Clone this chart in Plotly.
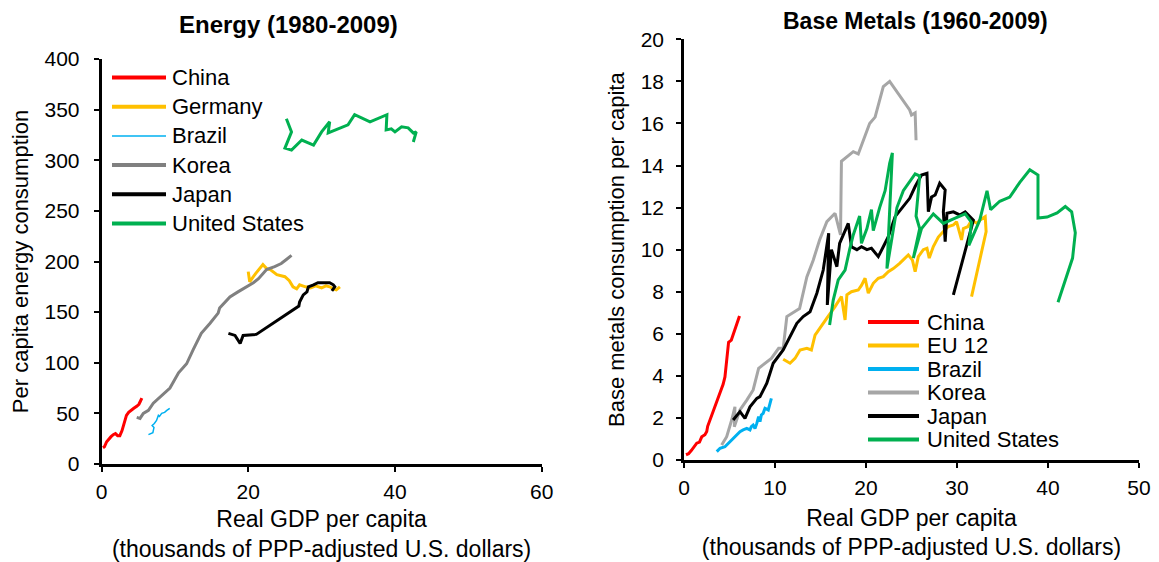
import plotly.graph_objects as go

# The page body has an 8px default margin, so the figure is sized/offset to fill the window exactly.
PAGE_W, PAGE_H, BODY_MARGIN = 1159, 562, 8
W, H = PAGE_W - BODY_MARGIN, PAGE_H - BODY_MARGIN

# ---------------- Energy (1980-2009) ----------------
energy_names = ["China", "Germany", "Brazil", "Korea", "Japan", "United States"]

china_e_x = [0.2, 0.4, 0.7, 1.0, 1.3, 1.6, 1.9, 2.2, 2.5, 2.8, 3.0, 3.2, 3.4, 3.7, 4.0, 4.4, 4.8, 5.1, 5.3, 5.5]
china_e_y = [16, 17, 22, 25, 27, 29, 30, 28, 28, 33, 38, 43, 48, 51, 53, 55, 57, 59, 62, 65]

germany_e_x = [20.0, 20.2, 21.0, 22.0, 22.5, 23.0, 23.9, 25.0, 25.6, 26.1, 26.6, 27.0, 27.8, 28.5, 29.2, 30.0, 30.6, 31.1, 31.6, 32.0, 32.5]
germany_e_y = [190, 180, 188, 197, 193, 192, 187, 185, 181, 175, 173, 177, 175, 174, 176, 174, 176, 175, 173, 172, 175]

brazil_e_x = [6.4, 6.7, 7.0, 7.15, 6.9, 7.2, 7.5, 7.75, 7.9, 8.2, 8.6, 8.9, 9.3]
brazil_e_y = [29, 30, 31, 36, 38, 40, 43, 48, 47, 50, 51, 53, 55]

korea_e_x = [4.8, 5.25, 5.7, 6.4, 7.06, 8.2, 9.33, 10.5, 11.6, 12.5, 13.6, 14.8, 15.9, 16.1, 16.8, 17.5, 18.6, 19.8, 20.7, 21.4, 22.5, 23.6, 24.5, 25.2, 25.9]
korea_e_y = [46, 45, 50, 53, 60, 68, 75, 90, 99, 113, 129, 139, 149, 154, 160, 165, 170, 175, 179, 183, 192, 195, 198, 202, 206]

japan_e_x = [17.3, 18.2, 18.9, 19.3, 21.1, 23.0, 24.8, 26.6, 26.9, 27.0, 27.5, 28.0, 28.2, 28.9, 29.5, 30.3, 31.1, 31.6, 31.8, 31.4]
japan_e_y = [129, 127, 119, 127, 128, 137, 146, 154, 156, 160, 167, 170, 175, 177, 179, 179, 179, 177, 175, 171]

us_e_x = [25.2, 25.9, 25.0, 25.9, 27.3, 28.9, 30.0, 31.1, 30.9, 32.5, 33.6, 34.5, 36.6, 38.9, 38.8, 39.5, 40.0, 40.9, 41.8, 42.5, 42.9, 42.5]
us_e_y = [341, 328, 312, 310, 320, 315, 328, 338, 327, 332, 335, 345, 338, 345, 330, 331, 328, 333, 332, 327, 328, 318]

# ---------------- Base Metals (1960-2009) ----------------
metal_names = ["China", "EU 12", "Brazil", "Korea", "Japan", "United States"]

china_m_x = [0.22, 0.5, 0.8, 1.1, 1.4, 1.7, 1.95, 2.3, 2.5, 2.6, 2.9, 3.2, 3.6, 3.95, 4.3, 4.5, 4.7, 4.9, 5.2, 5.45, 5.7, 6.1]
china_m_y = [0.25, 0.3, 0.45, 0.6, 0.8, 0.85, 1.1, 1.2, 1.35, 1.6, 1.95, 2.4, 2.85, 3.25, 3.6, 3.95, 4.8, 5.6, 5.7, 6.0, 6.4, 6.85]

eu_m_x = [10.9, 11.65, 12.2, 12.75, 13.5, 14.0, 14.4, 15.1, 15.7, 16.6, 17.3, 17.7, 17.9, 18.4, 19.15, 19.5, 19.9, 20.25, 20.8, 21.35, 21.9, 22.45, 23.0, 23.7, 24.65, 25.1, 25.4, 25.75, 26.3, 26.7, 26.95, 27.4, 27.95, 28.5, 29.05, 29.6, 29.95, 30.5, 30.7, 31.2, 31.6, 32.2, 32.5, 33.1, 33.2, 31.6]
eu_m_y = [4.79, 4.6, 4.83, 5.23, 5.31, 5.23, 5.94, 6.34, 6.74, 7.29, 7.77, 6.66, 7.85, 8.0, 8.08, 8.3, 8.64, 7.93, 8.4, 8.64, 8.72, 8.95, 9.1, 9.35, 9.75, 9.5, 8.95, 9.67, 10.0, 10.07, 9.6, 10.15, 10.6, 10.86, 11.1, 11.17, 11.33, 10.46, 11.0, 11.1, 11.4, 11.25, 11.4, 11.57, 10.86, 7.77]

brazil_m_x = [3.6, 3.96, 4.5, 4.87, 5.4, 5.8, 6.15, 6.5, 6.9, 7.25, 7.4, 7.6, 7.8, 8.0, 8.2, 8.35, 8.5, 8.7, 8.9, 9.26, 9.45, 9.6]
brazil_m_y = [0.4, 0.56, 0.63, 0.79, 1.03, 1.19, 1.35, 1.43, 1.5, 1.43, 1.58, 1.66, 1.5, 1.74, 2.06, 1.82, 2.14, 2.22, 2.46, 2.38, 2.7, 2.93]

korea_m_x = [4.14, 4.69, 5.24, 5.6, 5.53, 6.15, 6.9, 7.6, 8.2, 9.1, 9.6, 10.4, 10.9, 11.3, 12.7, 13.5, 14.2, 14.9, 15.7, 16.6, 17.2, 17.3, 18.6, 19.15, 20.1, 20.4, 21.0, 21.9, 22.6, 23.7, 24.8, 25.0, 25.4, 25.5]
korea_m_y = [0.71, 1.11, 1.9, 2.53, 1.58, 2.38, 2.85, 3.33, 4.36, 4.68, 4.83, 5.31, 5.31, 6.82, 7.2, 8.7, 9.5, 10.46, 11.33, 11.73, 10.7, 14.2, 14.66, 14.55, 15.6, 16.0, 16.3, 17.75, 18.0, 17.3, 16.64, 16.4, 16.5, 15.2]

japan_m_x = [5.4, 6.15, 6.7, 7.25, 8.0, 8.35, 9.1, 9.8, 10.9, 12.4, 13.1, 13.85, 14.6, 15.3, 15.9, 15.75, 16.2, 16.8, 17.1, 18.05, 18.4, 19.0, 19.5, 20.1, 20.6, 21.35, 21.9, 22.45, 23.2, 24.1, 24.8, 25.4, 26.1, 26.7, 26.85, 27.2, 27.6, 28.1, 28.7, 28.5, 28.7, 28.9, 29.6, 30.3, 30.9, 31.8, 29.6]
japan_m_y = [1.9, 2.3, 1.98, 2.53, 2.93, 3.01, 3.65, 4.6, 5.23, 6.5, 6.82, 7.05, 7.93, 9.03, 10.78, 7.37, 10.0, 9.19, 10.3, 11.25, 10.14, 10.0, 10.14, 10.0, 10.07, 9.67, 10.14, 10.62, 11.57, 12.05, 12.44, 13.0, 13.55, 13.63, 11.8, 12.5, 12.6, 13.16, 12.84, 11.8, 10.38, 11.73, 11.8, 11.65, 11.8, 11.4, 7.85]

us_m_x = [16.0, 16.4, 16.95, 17.7, 18.2, 18.6, 19.3, 19.5, 20.1, 20.6, 20.8, 21.5, 22.1, 22.6, 22.9, 22.3, 23.4, 24.1, 25.4, 25.9, 25.5, 25.9, 25.2, 26.1, 27.4, 28.5, 29.8, 30.9, 31.6, 31.3, 32.5, 33.3, 33.7, 34.7, 35.8, 36.9, 38.0, 38.9, 38.9, 39.9, 41.0, 41.9, 42.6, 43.0, 42.7, 41.1]
us_m_y = [6.42, 7.6, 8.56, 9.03, 10.0, 10.7, 11.6, 10.3, 11.0, 11.9, 10.9, 12.0, 12.8, 14.1, 14.6, 9.1, 12.0, 12.8, 13.6, 13.5, 11.6, 11.0, 9.6, 11.0, 11.7, 11.25, 11.5, 11.7, 11.3, 10.2, 11.4, 12.8, 11.9, 12.3, 12.5, 13.2, 13.8, 13.55, 11.5, 11.55, 11.75, 12.05, 11.8, 10.8, 9.6, 7.5]

# ---------------- styles ----------------
FONT = "Liberation Sans, Arial, sans-serif"
energy_colors = ["#FF0000", "#FFC000", "#00B0F0", "#808080", "#000000", "#00B050"]
energy_widths = [3, 3, 1.5, 3, 3, 3]
metal_colors = ["#FF0000", "#FFC000", "#00B0F0", "#A6A6A6", "#000000", "#00B050"]
metal_widths = [3, 3, 3, 3, 3, 3]

energy_series = [(china_e_x, china_e_y), (germany_e_x, germany_e_y), (brazil_e_x, brazil_e_y),
                 (korea_e_x, korea_e_y), (japan_e_x, japan_e_y), (us_e_x, us_e_y)]
metal_series = [(china_m_x, china_m_y), (eu_m_x, eu_m_y), (brazil_m_x, brazil_m_y),
                (korea_m_x, korea_m_y), (japan_m_x, japan_m_y), (us_m_x, us_m_y)]

fig = go.Figure()
for name, (xs, ys), c, w in zip(energy_names, energy_series, energy_colors, energy_widths):
    fig.add_trace(go.Scatter(x=xs, y=ys, mode="lines", name=name, xaxis="x", yaxis="y",
                             line=dict(color=c, width=w), showlegend=False))
for name, (xs, ys), c, w in zip(metal_names, metal_series, metal_colors, metal_widths):
    fig.add_trace(go.Scatter(x=xs, y=ys, mode="lines", name=name, xaxis="x2", yaxis="y2",
                             line=dict(color=c, width=w), showlegend=False))


def px_x(p):
    return (p - BODY_MARGIN) / W


def px_y(p):
    return 1 - (p - BODY_MARGIN) / H


axis_common = dict(showgrid=False, zeroline=False, showline=True, linecolor="black", linewidth=2.5,
                   ticks="outside", ticklen=5, tickwidth=2, tickcolor="black", automargin=False,
                   tickfont=dict(family=FONT, size=21, color="black"))

xtitle = "Real GDP per capita<br>(thousands of PPP-adjusted U.S. dollars)"
XTFONT = dict(family=FONT, size=23, color="black")
YTFONT = dict(family=FONT, size=22, color="black")

fig.update_layout(
    width=W, height=H, margin=dict(l=0, r=0, t=0, b=0, autoexpand=False),
    paper_bgcolor="white", plot_bgcolor="white", showlegend=False,
    font=dict(family=FONT, color="black"),
    xaxis=dict(domain=[px_x(101.5), px_x(541.7)], range=[0, 60], dtick=20, anchor="y",
               title=dict(text=xtitle, font=XTFONT, standoff=12),
               ticklabelstandoff=2, **axis_common),
    yaxis=dict(domain=[px_y(464), px_y(59)], range=[0, 400], dtick=50, anchor="x",
               title=dict(text="Per capita energy consumption", font=YTFONT, standoff=14),
               ticklabelstandoff=10, **axis_common),
    xaxis2=dict(domain=[px_x(684), px_x(1139)], range=[0, 50], dtick=10, anchor="y2",
                title=dict(text=xtitle, font=XTFONT, standoff=12),
                ticklabelstandoff=2, **axis_common),
    yaxis2=dict(domain=[px_y(460), px_y(39.3)], range=[0, 20], dtick=2, anchor="x2",
                title=dict(text="Base metals consumption per capita", font=YTFONT, standoff=10),
                ticklabelstandoff=8, **axis_common),
)

annotations = [
    dict(text="<b>Energy (1980-2009)</b>", x=px_x(288), y=px_y(25), xref="paper", yref="paper",
         xanchor="center", yanchor="middle", showarrow=False, font=dict(family=FONT, size=24, color="black")),
    dict(text="<b>Base Metals (1960-2009)</b>", x=px_x(915), y=px_y(21), xref="paper", yref="paper",
         xanchor="center", yanchor="middle", showarrow=False, font=dict(family=FONT, size=23, color="black")),
]
shapes = []

# legend boxes (drawn manually to match the original's long line samples)
legend_specs = [
    (energy_names, energy_colors, energy_widths, 112, 166, 170, 77.5, 29.2),
    (metal_names, metal_colors, metal_widths, 868, 919, 925, 322, 23.5),
]
for names, colors, widths, lx0, lx1, tx, ly0, dy in legend_specs:
    for i, (n, c, w) in enumerate(zip(names, colors, widths)):
        yy = ly0 + i * dy
        shapes.append(dict(type="line", xref="paper", yref="paper", x0=px_x(lx0), x1=px_x(lx1),
                           y0=px_y(yy), y1=px_y(yy), line=dict(color=c, width=w + 1 if w >= 3 else w)))
        annotations.append(dict(text=n, x=px_x(tx), y=px_y(yy), xref="paper", yref="paper",
                                xanchor="left", yanchor="middle", showarrow=False,
                                font=dict(family=FONT, size=22, color="black")))

fig.update_layout(annotations=annotations, shapes=shapes)
fig.write_html("out.html")
